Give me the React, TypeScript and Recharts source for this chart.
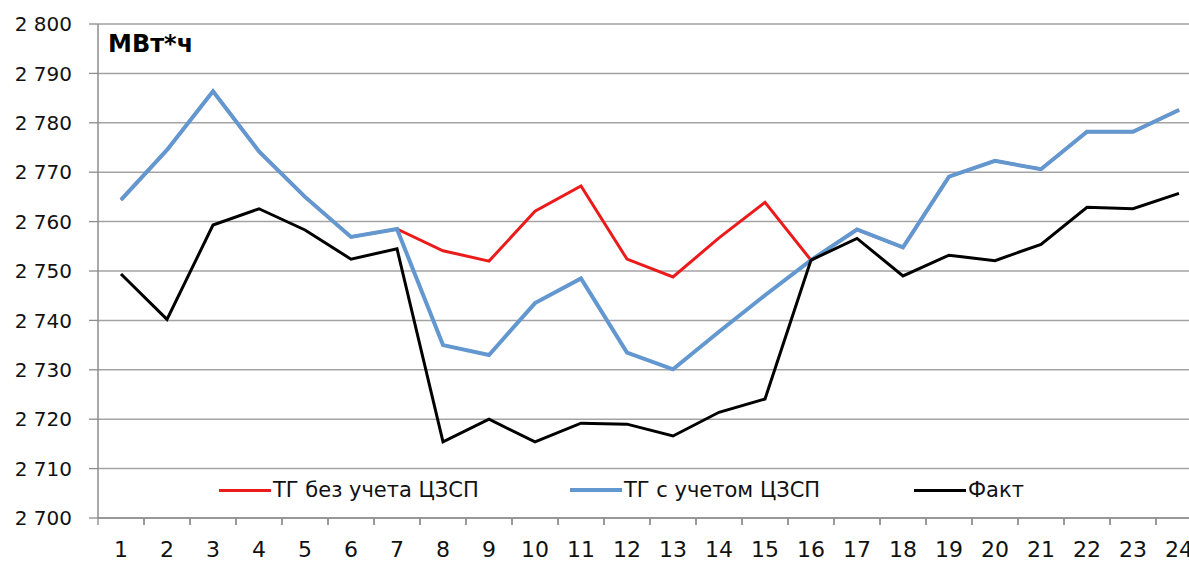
import { LineChart, Line, XAxis, YAxis, CartesianGrid } from "recharts";

// hours of the day
const hours = [1, 2, 3, 4, 5, 6, 7, 8, 9, 10, 11, 12, 13, 14, 15, 16, 17, 18, 19, 20, 21, 22, 23, 24];

// ТГ без учета ЦЗСП (hidden under the blue line where they coincide)
const tgWithout = [
  2764.4, 2774.5, 2786.4, 2774.2, 2765.0, 2756.9, 2758.5, 2754.1, 2752.0, 2762.1, 2767.2, 2752.4,
  2748.8, 2756.7, 2763.9, 2752.2, 2758.4, 2754.8, 2769.1, 2772.3, 2770.6, 2778.2, 2778.2, 2782.6,
];

// ТГ с учетом ЦЗСП
const tgWith = [
  2764.4, 2774.5, 2786.4, 2774.2, 2765.0, 2756.9, 2758.5, 2735.0, 2733.0, 2743.5, 2748.5, 2733.5,
  2730.1, 2737.7, 2745.1, 2752.2, 2758.4, 2754.8, 2769.1, 2772.3, 2770.6, 2778.2, 2778.2, 2782.6,
];

// Факт
const fact = [
  2749.4, 2740.2, 2759.3, 2762.6, 2758.3, 2752.4, 2754.5, 2715.4, 2720.0, 2715.4, 2719.2, 2719.0,
  2716.6, 2721.4, 2724.1, 2752.2, 2756.6, 2749.0, 2753.2, 2752.1, 2755.4, 2762.9, 2762.6, 2765.7,
];

const yTicks = [2700, 2710, 2720, 2730, 2740, 2750, 2760, 2770, 2780, 2790, 2800];

const series = [
  { key: "without", name: "ТГ без учета ЦЗСП", color: "#ec1b1b", width: 3, left: 219 },
  { key: "with", name: "ТГ с учетом ЦЗСП", color: "#6297d0", width: 4, left: 570 },
  { key: "fact", name: "Факт", color: "#000000", width: 3, left: 914 },
];

const data = hours.map((h, i) => ({
  hour: h,
  without: tgWithout[i],
  with: tgWith[i],
  fact: fact[i],
}));

const FONT = "'DejaVu Sans', sans-serif";
const AXIS_GRAY = "#8c8c8c";

const fmt = (v: number) => {
  const s = String(v);
  return s.slice(0, 1) + " " + s.slice(1);
};

// x ticks: label at the category centre, tick mark on the band boundary (Excel style)
const HourTick = (props: any) => {
  const { x, y, payload } = props;
  const half = payload?.offset || 23;
  return (
    <g>
      <line x1={x - half} x2={x - half} y1={y} y2={y + 7} stroke={AXIS_GRAY} strokeWidth={1.3} />
      <line x1={x + half} x2={x + half} y1={y} y2={y + 7} stroke={AXIS_GRAY} strokeWidth={1.3} />
      <text x={x} y={y + 39} textAnchor="middle" fontFamily={FONT} fontSize={22} fill="#111">
        {payload.value}
      </text>
    </g>
  );
};

export default function App() {
  return (
    <div
      style={{
        position: "absolute",
        left: 0,
        top: 0,
        width: 1189,
        height: 561,
        overflow: "hidden",
        background: "#fff",
      }}
    >
      <LineChart width={1210} height={561} data={data} margin={{ top: 24, right: 8, bottom: 0, left: 0 }}>
        <CartesianGrid vertical={false} stroke="#a3a3a3" strokeWidth={1.5} />
        <XAxis
          dataKey="hour"
          scale="band"
          height={43}
          interval={0}
          tickLine={false}
          tickSize={0}
          tickMargin={0}
          axisLine={{ stroke: AXIS_GRAY, strokeWidth: 1.5 }}
          tick={<HourTick />}
        />
        <YAxis
          width={98}
          domain={[2700, 2800]}
          ticks={yTicks}
          interval={0}
          tickFormatter={fmt}
          tickSize={9}
          tickMargin={17}
          tickLine={{ stroke: AXIS_GRAY, strokeWidth: 1.3 }}
          axisLine={{ stroke: AXIS_GRAY, strokeWidth: 1.5 }}
          tick={{ fontFamily: FONT, fontSize: 20, fill: "#111" }}
        />
        {series.map((s) => (
          <Line
            key={s.key}
            type="linear"
            dataKey={s.key}
            name={s.name}
            stroke={s.color}
            strokeWidth={s.width}
            dot={false}
            activeDot={false}
            isAnimationActive={false}
          />
        ))}
      </LineChart>

      <div
        style={{
          position: "absolute",
          left: 108,
          top: 30,
          fontFamily: FONT,
          fontWeight: "bold",
          fontSize: 24,
          color: "#000",
        }}
      >
        МВт*ч
      </div>

      {series.map((s) => (
        <div
          key={s.key}
          style={{
            position: "absolute",
            left: s.left,
            top: 476,
            height: 28,
            display: "flex",
            alignItems: "center",
            fontFamily: FONT,
            fontSize: 21,
            color: "#111",
            whiteSpace: "nowrap",
          }}
        >
          <span style={{ display: "inline-block", width: 52, height: s.width, background: s.color }} />
          <span style={{ marginLeft: 2 }}>{s.name}</span>
        </div>
      ))}
    </div>
  );
}
